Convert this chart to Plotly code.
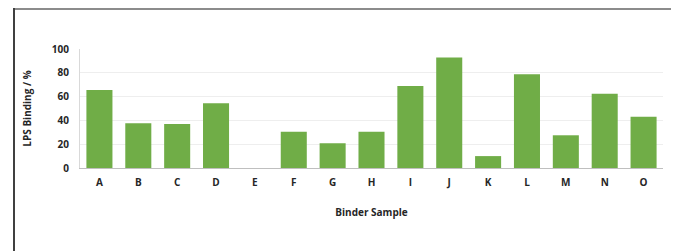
import plotly.graph_objects as go

categories = ["A", "B", "C", "D", "E", "F", "G", "H", "I", "J", "K", "L", "M", "N", "O"]
lps_binding = [65.6, 37.6, 37.0, 54.4, 0.0, 30.4, 20.8, 30.4, 69.0, 92.8, 10.0, 78.8, 27.5, 62.4, 43.1]
y_ticks = [0, 20, 40, 60, 80, 100]

OFF = 8  # page body margin offset
W, H = 679 - OFF, 251 - OFF
L, R, T, B = 80 - OFF, 663 - OFF, 49 - OFF, 168 - OFF

def px_x(x):
    return (x - OFF - L) / (R - L)

def px_y(y):
    return (B - (y - OFF)) / (B - T)

fig = go.Figure(go.Bar(
    x=categories, y=lps_binding,
    marker=dict(color="#70ad47", line=dict(width=0)),
    width=0.67,
))

font = "Open Sans"
fig.update_layout(
    width=W, height=H,
    margin=dict(l=L, r=W - R, t=T, b=H - B, autoexpand=False),
    paper_bgcolor="white", plot_bgcolor="white",
    showlegend=False,
    font=dict(family=font, color="#262626"),
    xaxis=dict(
        automargin=False,
        showline=True, linecolor="#bfbfbf", linewidth=1,
        tickfont=dict(size=10, family=font, weight="bold"),
        ticks="", ticklen=0, ticklabelstandoff=5,
        title=dict(text="<b>Binder Sample</b>", font=dict(size=10, family=font), standoff=20),
    ),
    yaxis=dict(
        automargin=False,
        range=[0, 100], tickvals=y_ticks,
        showgrid=True, gridcolor="#eeeeee", gridwidth=1,
        showline=True, linecolor="#d9d9d9", linewidth=1,
        zeroline=False,
        tickfont=dict(size=10, family=font, weight="bold"),
        ticklabelstandoff=8,
        title=dict(text="<b>LPS Binding / %</b>", font=dict(size=10, family=font), standoff=18),
        ticks="", ticklen=0,
    ),
    shapes=[
        dict(type="line", xref="paper", yref="paper",
             x0=px_x(13), x1=px_x(676), y0=px_y(9), y1=px_y(9),
             line=dict(color="#8c8c8c", width=2)),
        dict(type="line", xref="paper", yref="paper",
             x0=px_x(14), x1=px_x(14), y0=px_y(8), y1=px_y(270),
             line=dict(color="#404040", width=2)),
        dict(type="line", xref="paper", yref="paper",
             x0=px_x(676), x1=px_x(676), y0=px_y(8), y1=px_y(270),
             line=dict(color="#404040", width=2)),
    ],
)

fig.write_html("out.html")
